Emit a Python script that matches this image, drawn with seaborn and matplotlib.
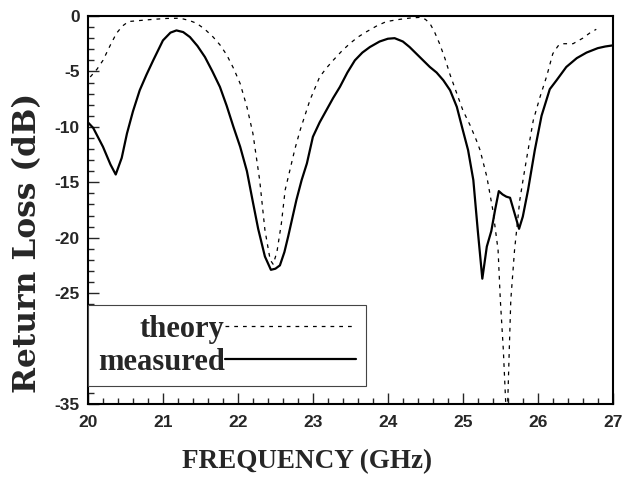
import matplotlib
matplotlib.use("Agg")
import matplotlib.pyplot as plt
import seaborn as sns
from matplotlib.ticker import MultipleLocator
from matplotlib.lines import Line2D

# measured return loss (solid)
freq_measured = [20.0, 20.07, 20.2, 20.3, 20.37, 20.45, 20.52, 20.6, 20.69, 20.78, 20.87,
                 21.0, 21.1, 21.18, 21.27, 21.36, 21.46, 21.56, 21.66, 21.76, 21.85, 21.94,
                 22.03, 22.12, 22.2, 22.27, 22.36, 22.44, 22.5, 22.56, 22.62, 22.67, 22.72,
                 22.78, 22.85, 22.92, 23.0, 23.09, 23.18, 23.27, 23.36, 23.46, 23.56, 23.66,
                 23.76, 23.89, 24.0, 24.09, 24.2, 24.29, 24.38, 24.47, 24.56, 24.65, 24.74,
                 24.83, 24.92, 25.0, 25.07, 25.14, 25.2, 25.26, 25.32, 25.38, 25.43, 25.48,
                 25.53, 25.58, 25.63, 25.69, 25.75, 25.8, 25.87, 25.96, 26.05, 26.16, 26.25,
                 26.38, 26.52, 26.65, 26.8, 26.9, 27.0]
rl_measured = [-9.6, -10.1, -11.8, -13.4, -14.3, -12.8, -10.6, -8.6, -6.7, -5.3, -4.0,
               -2.2, -1.5, -1.3, -1.45, -1.9, -2.7, -3.7, -5.0, -6.4, -8.1, -10.0,
               -11.8, -14.0, -16.8, -19.2, -21.7, -22.9, -22.8, -22.5, -21.3, -19.9, -18.4,
               -16.6, -14.8, -13.3, -10.9, -9.6, -8.5, -7.4, -6.4, -5.1, -4.0, -3.3,
               -2.8, -2.3, -2.05, -2.0, -2.3, -2.8, -3.4, -4.0, -4.6, -5.1, -5.8,
               -6.7, -8.2, -10.3, -12.1, -14.8, -19.4, -23.7, -20.8, -19.4, -17.5, -15.8,
               -16.1, -16.3, -16.4, -17.8, -19.2, -18.1, -15.7, -12.1, -9.0, -6.6, -5.8,
               -4.6, -3.8, -3.3, -2.9, -2.75, -2.65]

# theory (dashed)
freq_theory = [20.03, 20.12, 20.2, 20.3, 20.38, 20.46, 20.54, 20.7, 20.87, 21.05, 21.23,
               21.35, 21.45, 21.56, 21.67, 21.76, 21.85, 21.94, 22.03, 22.12, 22.2, 22.29,
               22.36, 22.43, 22.47, 22.52, 22.58, 22.63, 22.69, 22.76, 22.83, 22.96, 23.09,
               23.18, 23.27, 23.38, 23.49, 23.6, 23.72, 23.85, 23.98, 24.16, 24.3, 24.43,
               24.5, 24.56, 24.62, 24.69, 24.76, 24.83, 24.92, 25.0, 25.1, 25.18, 25.23,
               25.32, 25.4, 25.47, 25.5, 25.54, 25.57, 25.585, 25.6, 25.62, 25.64, 25.69,
               25.76, 25.81, 25.86, 25.94, 26.03, 26.12, 26.2, 26.27, 26.32, 26.47, 26.6,
               26.7, 26.78]
rl_theory = [-5.5, -4.8, -4.0, -2.6, -1.56, -0.9, -0.5, -0.4, -0.3, -0.22, -0.2,
             -0.4, -0.66, -1.2, -1.9, -2.6, -3.5, -4.7, -6.1, -8.2, -10.6, -14.8,
             -19.3, -22.0, -22.4, -21.3, -18.7, -15.7, -14.0, -12.0, -10.3, -7.6, -5.5,
             -4.7, -4.0, -3.2, -2.5, -1.9, -1.4, -0.9, -0.5, -0.3, -0.18, -0.12,
             -0.3, -0.66, -1.4, -2.5, -3.8, -5.3, -7.0, -8.5, -9.9, -11.2, -12.1,
             -14.5, -17.5, -21.1, -25.6, -30.1, -34.6, -37.0, -34.6, -30.0, -25.6, -21.1,
             -16.6, -14.5, -12.5, -9.4, -7.3, -5.4, -3.4, -2.7, -2.5, -2.5, -2.0,
             -1.5, -1.2]

x_ticks = [20, 21, 22, 23, 24, 25, 26, 27]
y_ticks = [0, -5, -10, -15, -20, -25, -35]

sns.set_style("ticks")
plt.rcParams['axes.unicode_minus'] = False
plt.rcParams['font.family'] = ['Liberation Sans', 'DejaVu Sans']

fig = plt.figure(figsize=(6.24, 4.78), dpi=100)
ax = fig.add_axes([0.141, 0.155, 0.841, 0.8115])

sns.lineplot(x=freq_theory, y=rl_theory, ax=ax, color='black', linewidth=0.9,
             linestyle=(0, (3, 4)), label='theory')
sns.lineplot(x=freq_measured, y=rl_measured, ax=ax, color='black', linewidth=1.6,
             label='measured')

ax.set_xlim(20, 27)
ax.set_ylim(-35, 0)
ax.set_xticks(x_ticks)
ax.set_yticks(y_ticks)
ax.xaxis.set_minor_locator(MultipleLocator(0.2))
ax.yaxis.set_minor_locator(MultipleLocator(1))
ax.tick_params(which='both', direction='in', top=False, right=False, width=1)
ax.tick_params(which='major', length=8)
ax.tick_params(which='minor', length=4)
ax.tick_params(axis='x', pad=8)
ax.tick_params(axis='y', pad=6)
for lab in ax.get_xticklabels() + ax.get_yticklabels():
    lab.set_fontweight('bold')
    lab.set_fontsize(12.5)
for s in ax.spines.values():
    s.set_visible(True)
    s.set_linewidth(1.5)
    s.set_color('black')

ax.set_xlabel('FREQUENCY (GHz)', family='Liberation Serif', fontweight='bold', fontsize=19.5)
ax.xaxis.set_label_coords(0.417, -0.149)
ax.xaxis.label.set_va('center')
ax.set_ylabel('Return Loss (dB)', family='DejaVu Serif', fontweight='bold', fontsize=22.5)
ax.yaxis.set_label_coords(-0.115, 0.415)
ax.yaxis.label.set_va('center')

handles = [Line2D([], [], color='black', linewidth=0.9, linestyle=(0, (3, 4))),
           Line2D([], [], color='black', linewidth=1.6)]
leg = ax.legend(handles, ['theory', 'measured'], loc='lower left', bbox_to_anchor=(0, 0.045),
                borderaxespad=0, markerfirst=False, handlelength=4.3, handletextpad=0.0,
                labelspacing=0.12, borderpad=0.32, fancybox=False, framealpha=1,
                prop={'family': 'Liberation Serif', 'weight': 'bold', 'size': 22})
leg.get_frame().set_edgecolor('#444444')
leg.get_frame().set_linewidth(0.8)

fig.savefig('out.png', dpi=100)
